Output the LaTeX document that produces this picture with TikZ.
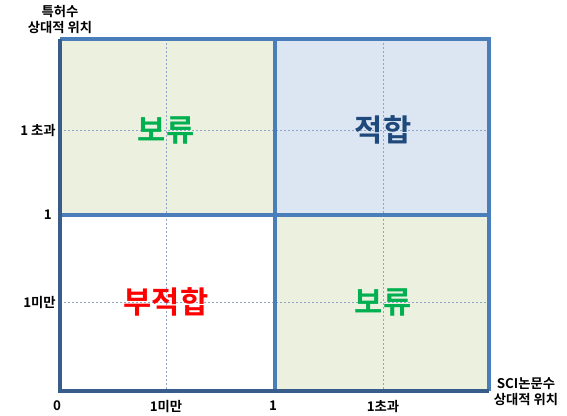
\documentclass[tikz,border=0pt]{standalone}
\usepackage{fontspec}
\setmainfont{Noto Sans CJK KR}[BoldFont={Noto Sans CJK KR Bold}]
\definecolor{lineblue}{HTML}{4A7EBB}
\definecolor{axisblue}{HTML}{385D8A}
\definecolor{fillgreen}{HTML}{EBF1DE}
\definecolor{fillblue}{HTML}{DCE6F2}
\definecolor{txtgreen}{HTML}{00B050}
\definecolor{txtblue}{HTML}{1F497D}
\definecolor{txtred}{HTML}{FF0000}
\definecolor{gridgray}{HTML}{8EA4C8}
\tikzset{
  ticklbl/.style={font=\fontsize{10}{12}\selectfont\bfseries, text=black, inner sep=0pt},
  big/.style={font=\fontsize{23}{26}\selectfont\bfseries, inner sep=0pt},
  grid/.style={gridgray, dashed, line width=0.4pt, dash pattern=on 1.5pt off 1.5pt},
  border/.style={lineblue, line width=2.3pt},
}
\begin{document}
\begin{tikzpicture}[x=0.75pt,y=-0.75pt]
\useasboundingbox (0,0) rectangle (567,415);
% fills
\fill[fillgreen] (60,39) rectangle (275,215);
\fill[fillblue] (275,39) rectangle (489,215);
\fill[white] (60,215) rectangle (275,391);
\fill[fillgreen] (275,215) rectangle (489,391);
% grid
\coordinate (g1t) at (166,39); \coordinate (g1b) at (166,391);
\coordinate (g2t) at (383,39); \coordinate (g2b) at (383,391);
\coordinate (h1l) at (60,130); \coordinate (h1r) at (489,130);
\coordinate (h2l) at (60,302); \coordinate (h2r) at (489,302);
\draw[grid] (g1t) -- (g1b);
\draw[grid] (g2t) -- (g2b);
\draw[grid] (h1l) -- (h1r);
\draw[grid] (h2l) -- (h2r);
% borders
\coordinate (tl) at (60,39); \coordinate (tr) at (489,39);
\coordinate (bl) at (60,391); \coordinate (br) at (489,391);
\coordinate (mt) at (275,39); \coordinate (mb) at (275,391);
\coordinate (ml) at (60,215); \coordinate (mr) at (489,215);
\draw[border] (tl) -- (tr) -- (br);
\draw[border] (mt) -- (mb);
\draw[border] (ml) -- (mr);
\draw[axisblue, line width=2.3pt] (tl) -- (bl) -- (br);
% big labels
\node[big, text=txtgreen] (q1) at (166,130) {보류};
\node[big, text=txtblue] (q2) at (383,130) {적합};
\node[big, text=txtred] (q3) at (166,302) {부적합};
\node[big, text=txtgreen] (q4) at (383,302) {보류};
% axis labels
\node[ticklbl, align=center] (ytitle) at (60,20) {특허수\\상대적 위치};
\node[ticklbl, anchor=east] (y1) at (56,130) {1 초과};
\node[ticklbl, anchor=east] (y2) at (52,215) {1};
\node[ticklbl, anchor=east] (y3) at (56,302) {1미만};
\node[ticklbl] (x0) at (57,406) {0};
\node[ticklbl] (x1) at (166,406) {1미만};
\node[ticklbl] (x2) at (273,406) {1};
\node[ticklbl] (x3) at (383,406) {1초과};
\node[ticklbl, align=center] (xtitle) at (526,392) {SCI논문수\\상대적 위치};
\end{tikzpicture}
\end{document}
